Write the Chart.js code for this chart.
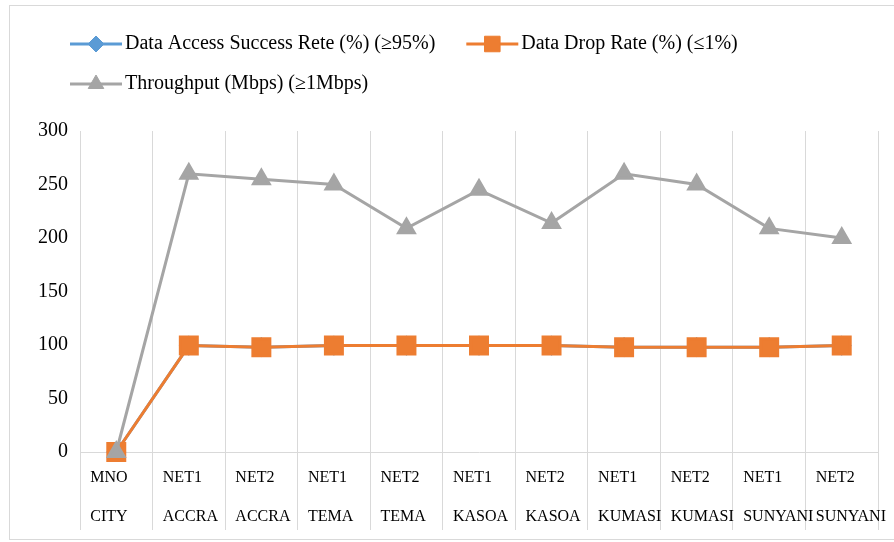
<!DOCTYPE html>
<html>
<head>
<meta charset="utf-8">
<script src="https://cdn.jsdelivr.net/npm/chart.js@4.4.0/dist/chart.umd.min.js"></script>
<style>
    body { margin: 0; background: #fff; }
    #frame { position: absolute; left: 9px; top: 5px; width: 900px; height: 533px; border: 1px solid #d9d9d9; }
    canvas { position: absolute; left: 0; top: 0; }
</style>
</head>
<body>
<div id="frame"></div>
<canvas id="kpiChart" width="894" height="542"></canvas>
<script>
const operators = ['MNO', 'NET1', 'NET2', 'NET1', 'NET2', 'NET1', 'NET2', 'NET1', 'NET2', 'NET1', 'NET2'];
const cities = ['CITY', 'ACCRA', 'ACCRA', 'TEMA', 'TEMA', 'KASOA', 'KASOA', 'KUMASI', 'KUMASI', 'SUNYANI', 'SUNYANI'];
const successRate = [0, 99.5, 98, 99.5, 99.5, 99.5, 99.5, 98, 98, 98, 99.5];
const dropRate = [0, 99.5, 98, 99.5, 99.5, 99.5, 99.5, 98, 98, 98, 99.5];
const throughput = [0, 260, 255, 250, 209, 245, 214, 260, 250, 209, 200];
const yTicks = [0, 50, 100, 150, 200, 250, 300];

const serif = '"Liberation Serif", "Times New Roman", serif';

// legend drawn by hand: line + marker, like the office style
const lineLegend = {
    id: 'lineLegend',
    afterDraw(chart) {
        const ctx = chart.ctx;
        ctx.save();
        ctx.font = '20px ' + serif;
        ctx.textBaseline = 'middle';
        ctx.textAlign = 'left';
        let x = 70, y = 44;
        chart.data.datasets.forEach(ds => {
            const w = 55 + ctx.measureText(ds.label).width;
            if (x + w > 878) {
                x = 70;
                y += 40;
            }
            ctx.strokeStyle = ds.borderColor;
            ctx.lineWidth = 3;
            ctx.beginPath();
            ctx.moveTo(x, y);
            ctx.lineTo(x + 52, y);
            ctx.stroke();
            ctx.fillStyle = ds.pointBackgroundColor;
            ctx.strokeStyle = ds.pointBorderColor;
            ctx.lineWidth = 1;
            Chart.helpers.drawPoint(ctx, {pointStyle: ds.pointStyle, radius: ds.legendRadius, borderWidth: 1, rotation: 0}, x + 26, y);
            ctx.fillStyle = '#000';
            ctx.fillText(ds.label, x + 55, y);
            x += w + 31;
        });
        ctx.restore();
    }
};

new Chart(document.getElementById('kpiChart'), {
    type: 'line',
    data: {
        labels: operators.map((op, i) => [op, cities[i]]),
        datasets: [{
            label: 'Data Access Success Rete (%) (≥95%)',
            data: successRate,
            borderColor: '#5B9BD5',
            backgroundColor: '#5B9BD5',
            pointBackgroundColor: '#5B9BD5',
            pointBorderColor: '#5B9BD5',
            pointStyle: 'rectRot',
            pointRadius: 8,
            legendRadius: 8,
            borderWidth: 3,
            order: 2,
            clip: false
        }, {
            label: 'Data Drop Rate (%) (≤1%)',
            data: dropRate,
            borderColor: '#ED7D31',
            backgroundColor: '#ED7D31',
            pointBackgroundColor: '#ED7D31',
            pointBorderColor: '#ED7D31',
            pointStyle: 'rect',
            pointRadius: 12,
            legendRadius: 11,
            borderWidth: 3,
            order: 1,
            clip: false
        }, {
            label: 'Throughput (Mbps) (≥1Mbps)',
            data: throughput,
            borderColor: '#A5A5A5',
            backgroundColor: '#A5A5A5',
            pointBackgroundColor: '#A5A5A5',
            pointBorderColor: '#A5A5A5',
            pointStyle: 'triangle',
            pointRadius: 9,
            legendRadius: 9,
            borderWidth: 3,
            order: 0,
            clip: false
        }]
    },
    options: {
        responsive: false,
        animation: false,
        devicePixelRatio: 1,
        layout: {padding: {left: 9, right: 16, top: 131, bottom: 0}},
        plugins: {
            legend: {display: false},
            tooltip: {enabled: false}
        },
        scales: {
            x: {
                offset: true,
                grid: {offset: true, color: '#d9d9d9', tickLength: 78, tickColor: '#d9d9d9'},
                border: {display: true, color: '#d9d9d9'},
                ticks: {
                    autoSkip: false,
                    maxRotation: 0,
                    align: 'start',
                    labelOffset: -26,
                    padding: -71,
                    color: '#000',
                    font: {family: serif, size: 16, lineHeight: 2.4}
                },
                afterFit: s => { s.height = 90; }
            },
            y: {
                min: 0,
                max: 300,
                grid: {display: false, drawTicks: false},
                border: {display: false},
                ticks: {padding: 12, color: '#000', font: {family: serif, size: 20}},
                afterBuildTicks: s => { s.ticks = yTicks.map(v => ({value: v})); },
                afterFit: s => { s.width = 71; }
            }
        }
    },
    plugins: [lineLegend]
});
</script>
</body>
</html>
